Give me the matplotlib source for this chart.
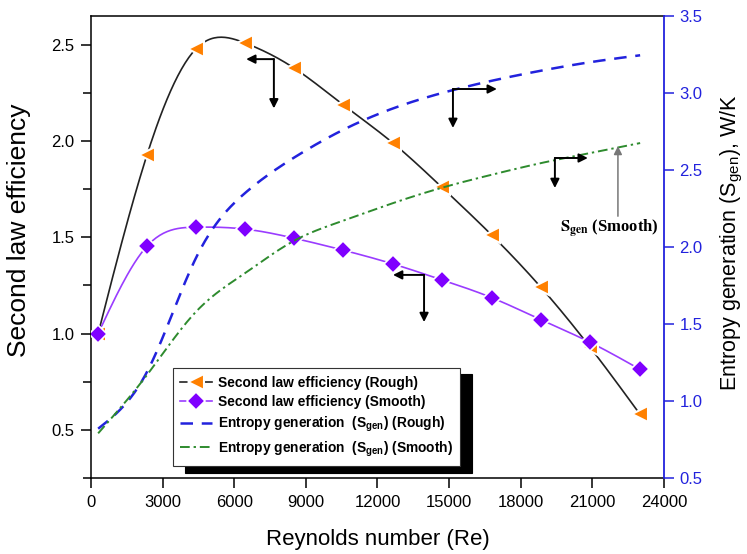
import numpy as np
import matplotlib
matplotlib.use('Agg')
import matplotlib.pyplot as plt
from matplotlib.ticker import MultipleLocator, FormatStrFormatter

plt.rcParams['font.family'] = ['Liberation Sans', 'DejaVu Sans']
plt.rcParams['mathtext.fontset'] = 'custom'
plt.rcParams['mathtext.rm'] = 'Liberation Sans'
plt.rcParams['mathtext.it'] = 'Liberation Sans:italic'
plt.rcParams['mathtext.bf'] = 'Liberation Sans:bold'

# values
reynolds = [300, 2350, 4400, 6450, 8500, 10550, 12650, 14700, 16800, 18850, 20900, 23000]
eff_rough = [1.00, 1.93, 2.48, 2.51, 2.38, 2.19, 1.99, 1.76, 1.51, 1.24, 0.93, 0.58]
eff_smooth = [1.00, 1.455, 1.553, 1.543, 1.496, 1.434, 1.362, 1.279, 1.186, 1.072, 0.955, 0.814]
sgen_rough = [0.82, 1.19, 1.93, 2.35, 2.58, 2.76, 2.90, 3.00, 3.08, 3.145, 3.20, 3.245]
sgen_smooth = [0.79, 1.17, 1.58, 1.83, 2.04, 2.17, 2.285, 2.385, 2.47, 2.545, 2.61, 2.675]

ORANGE = '#ff8000'
PURPLE = '#7f00ff'
PURPLE_LINE = '#9a3cff'
BLUE = '#2222dd'
GREEN = '#2e8b2e'


def spline(x, y, n=300):
    # natural cubic spline, used as the smooth connector between data points
    x = np.asarray(x, float)
    y = np.asarray(y, float)
    h = np.diff(x)
    k = len(x)
    A = np.zeros((k, k))
    b = np.zeros(k)
    A[0, 0] = A[-1, -1] = 1
    for i in range(1, k - 1):
        A[i, i - 1] = h[i - 1]
        A[i, i] = 2 * (h[i - 1] + h[i])
        A[i, i + 1] = h[i]
        b[i] = 3 * ((y[i + 1] - y[i]) / h[i] - (y[i] - y[i - 1]) / h[i - 1])
    c = np.linalg.solve(A, b)
    xs = np.linspace(x[0], x[-1], n)
    idx = np.clip(np.searchsorted(x, xs) - 1, 0, k - 2)
    dx = xs - x[idx]
    hi = h[idx]
    bb = (y[idx + 1] - y[idx]) / hi - hi * (2 * c[idx] + c[idx + 1]) / 3
    d = (c[idx + 1] - c[idx]) / (3 * hi)
    return xs, y[idx] + bb * dx + c[idx] * dx ** 2 + d * dx ** 3


def arrow(ax, start, end, color='k'):
    ax.annotate('', xy=end, xytext=start,
                arrowprops=dict(arrowstyle='-|>', color=color, lw=1.4,
                                mutation_scale=13, shrinkA=0, shrinkB=0))


fig = plt.figure(figsize=(7.47, 5.54), dpi=100)
ax = fig.add_axes([0.1218, 0.1372, 0.7671, 0.8339])
ax2 = ax.twinx()

xs, ys = spline(reynolds, eff_rough)
ax.plot(xs, ys, color='#222222', lw=1.2, zorder=2)
ax.plot(reynolds, eff_rough, ls='none', marker='<', ms=12, color=ORANGE,
        mec='white', mew=1.5, zorder=3)
xs, ys = spline(reynolds, eff_smooth)
ax.plot(xs, ys, color=PURPLE_LINE, lw=1.2, zorder=2)
ax.plot(reynolds, eff_smooth, ls='none', marker='D', ms=9, color=PURPLE,
        mec='white', mew=1.2, zorder=3)

xs, ys = spline(reynolds, sgen_rough)
ax2.plot(xs, ys, color=BLUE, lw=1.8, ls=(0, (5, 3.5)))
xs, ys = spline(reynolds, sgen_smooth)
ax2.plot(xs, ys, color=GREEN, lw=1.4, ls=(0, (5, 2, 1.2, 2)))

ax.set_xlim(0, 24000)
ax.set_ylim(0.25, 2.65)
ax2.set_ylim(0.5, 3.5)
ax.xaxis.set_major_locator(MultipleLocator(3000))
ax.yaxis.set_major_locator(MultipleLocator(0.5))
ax.yaxis.set_minor_locator(MultipleLocator(0.25))
ax2.yaxis.set_major_locator(MultipleLocator(0.5))
ax.yaxis.set_major_formatter(FormatStrFormatter('%.1f'))
ax2.yaxis.set_major_formatter(FormatStrFormatter('%.1f'))

ax.tick_params(axis='both', which='both', direction='out', width=1.1,
               labelsize=12, pad=5)
ax.tick_params(which='major', length=7)
ax.tick_params(which='minor', length=6)
ax2.tick_params(axis='y', direction='out', length=7, width=1.1, colors=BLUE,
                labelsize=12, pad=4)
for s in ax.spines.values():
    s.set_linewidth(1.1)
ax.spines['right'].set_visible(False)
for s in ['left', 'top', 'bottom']:
    ax2.spines[s].set_visible(False)
ax2.spines['right'].set_color(BLUE)
ax2.spines['right'].set_linewidth(1.3)

ax.set_xlabel('Reynolds number (Re)', fontsize=16, labelpad=14)
ax.set_ylabel('Second law efficiency', fontsize=19)
ax.yaxis.set_label_coords(-0.105, 0.537)
ax2.set_ylabel(r'Entropy generation (S$_{\rm gen}$), W/K', fontsize=15.5)
ax2.yaxis.set_label_coords(1.096, 0.51)

# arrows pointing to the axis that each curve belongs to
arrow(ax, (7660, 2.426), (6500, 2.426))
arrow(ax, (7660, 2.426), (7660, 2.17))
arrow(ax, (13950, 1.305), (12650, 1.305))
arrow(ax, (13950, 1.305), (13950, 1.06))
arrow(ax2, (15160, 3.026), (17000, 3.026))
arrow(ax2, (15160, 3.026), (15160, 2.773))
arrow(ax2, (19430, 2.578), (20810, 2.578))
arrow(ax2, (19430, 2.578), (19430, 2.383))
ax2.annotate('', xy=(22070, 2.655), xytext=(22070, 2.2),
             arrowprops=dict(arrowstyle='-|>', color='#777777', lw=1.1,
                             mutation_scale=12, shrinkA=0, shrinkB=0))
ax2.text(21700, 2.12, r'$\mathbf{S_{gen}}$ (Smooth)', ha='center', va='center',
         fontsize=12, fontweight='bold', family='Liberation Serif',
         math_fontfamily='stix')

handles = [
    plt.Line2D([], [], color='#222222', lw=1.2, marker='<', ms=11, mfc=ORANGE,
               mec='white', mew=1.5),
    plt.Line2D([], [], color=PURPLE_LINE, lw=1.2, marker='D', ms=9, mfc=PURPLE,
               mec='white', mew=1.2),
    plt.Line2D([], [], color=BLUE, lw=1.8, ls=(0, (5, 3.5))),
    plt.Line2D([], [], color=GREEN, lw=1.4, ls=(0, (5, 2, 1.2, 2))),
]
labels = [
    'Second law efficiency (Rough)',
    'Second law efficiency (Smooth)',
    r'Entropy generation  (S$_{\mathbf{gen}}$) (Rough)',
    r'Entropy generation  (S$_{\mathbf{gen}}$) (Smooth)',
]
leg = ax2.legend(handles, labels, loc='upper left', bbox_to_anchor=(0.143, 0.238),
                 borderaxespad=0, fancybox=False, framealpha=1,
                 edgecolor='#333333', prop={'weight': 'bold', 'size': 9.9},
                 handlelength=2.3, handletextpad=0.4, labelspacing=0.4,
                 borderpad=0.55,
                 shadow={'color': 'black', 'alpha': 1, 'ox': 8.5, 'oy': -4.5})
leg.get_frame().set_linewidth(0.8)

fig.savefig('out.png', dpi=100)
